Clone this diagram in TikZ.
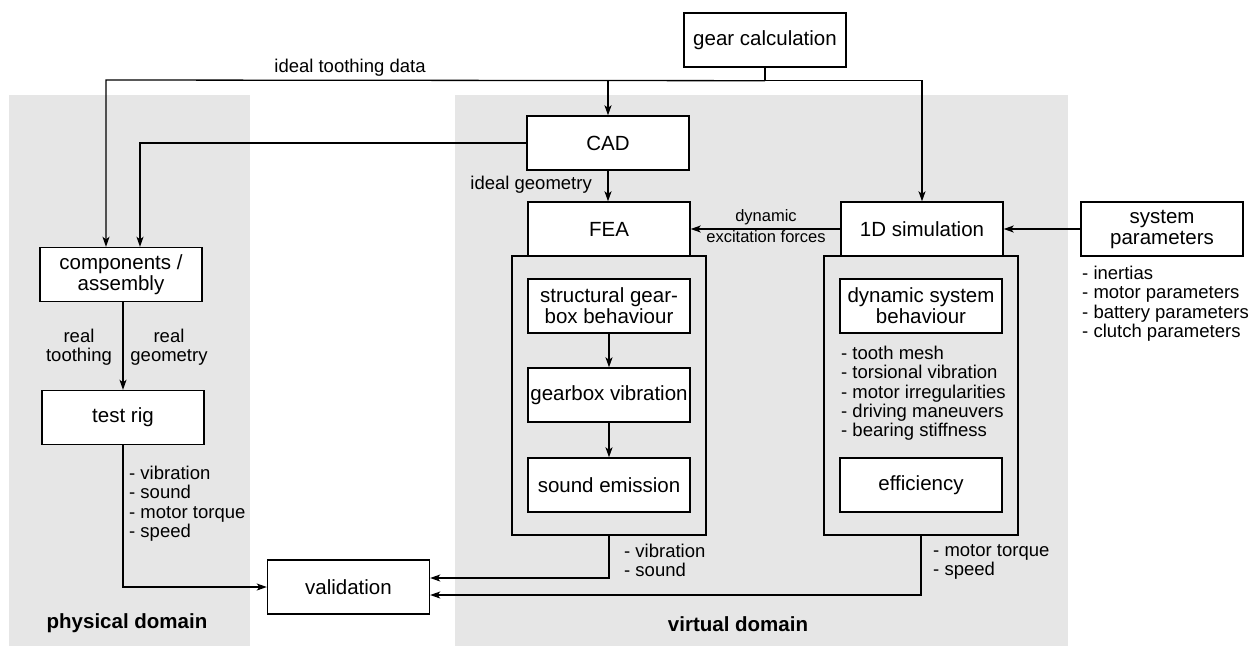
\documentclass[tikz,border=0pt]{standalone}
\usepackage{fontspec}
\setmainfont{Liberation Sans}
\usetikzlibrary{arrows.meta,calc}
\definecolor{domgray}{RGB}{230,230,230}
\begin{document}
\begin{tikzpicture}[x=1pt,y=-1pt,
  box/.style={draw, line width=1.4pt, fill=white, minimum width=162pt, minimum height=54pt,
    align=center, inner sep=0pt, font=\fontsize{20.5}{21}\selectfont},
  contbox/.style={draw, line width=1.4pt, minimum width=194pt, minimum height=279pt, inner sep=0pt},
  lbl/.style={inner sep=0pt, align=left, font=\fontsize{18.5}{19.3}\selectfont},
  clbl/.style={inner sep=0pt, align=center, font=\fontsize{18.5}{19.3}\selectfont},
  dom/.style={inner sep=0pt, font=\fontsize{20.5}{21}\selectfont\bfseries},
  wire/.style={line width=1.3pt},
  conn/.style={line width=1.3pt, -{Stealth[length=10pt,width=7pt,inset=2.5pt]}}]
\useasboundingbox (0,0) rectangle (1257,646);
% domains
\fill[domgray] (9,95) rectangle (250,646);
\fill[domgray] (455,95) rectangle (1068,646);
\node[dom] (physdom) at (127,623) {physical domain};
\node[dom] (virtdom) at (738,624) {virtual domain};
% containers
\node[contbox] (feac) at (609,395.5) {};
\node[contbox] (simc) at (921,395.5) {};
% boxes
\node[box] (gc) at (765,40) {gear calculation};
\node[box] (cad) at (608,143) {CAD};
\node[box] (fea) at (609,229) {FEA};
\node[box] (sim) at (922,229) {1D simulation};
\node[box] (sys) at (1162,229) {system\\parameters};
\node[box] (comp) at (121,274.5) {components /\\assembly};
\node[box] (rig) at (123,417.5) {test rig};
\node[box] (val) at (348.5,587) {validation};
\node[box] (struct) at (609,306) {structural gear-\\box behaviour};
\node[box] (gvib) at (609,395) {gearbox vibration};
\node[box] (sound) at (609,485) {sound emission};
\node[box] (dyn) at (921,306) {dynamic system\\behaviour};
\node[box] (eff) at (921,485) {efficiency};
% labels
\node[lbl] (ltd) at (350,68) {ideal toothing data};
\node[lbl, anchor=east] (lig) at (592,185) {ideal geometry};
\node[inner sep=0pt, align=center, font=\fontsize{16.5}{21}\selectfont] (ldyn) at (766,226) {dynamic\\excitation forces};
\node[clbl] (lrt) at (79,347) {real\\toothing};
\node[clbl] (lrg) at (169,347) {real\\geometry};
\node[lbl, anchor=north west] (lrig) at (129,466) {- vibration\\- sound\\- motor torque\\- speed};
\node[lbl, anchor=north west] (lfea) at (624,544) {- vibration\\- sound};
\node[lbl, anchor=north west] (lsim) at (933,544) {- motor torque\\- speed};
\node[lbl, anchor=north west] (lsys) at (1082,266) {- inertias\\- motor parameters\\- battery parameters\\- clutch parameters};
\node[lbl, anchor=north west] (ldynl) at (841,346) {- tooth mesh\\- torsional vibration\\- motor irregularities\\- driving maneuvers\\- bearing stiffness};
% connectors
\coordinate (jL) at (106,80);
\coordinate (jC) at (140,0);
\draw[wire] (gc.south) -- ++(0,13) coordinate (j);
\draw[conn] (j) -| (sim.north);
\draw[conn] (j) -- (jL) -- (jL |- comp.north);
\draw[conn] (cad.north |- j) -- (cad.north);
\draw[conn] (cad.west) -- (cad.west -| jC) -- (jC |- comp.north);
\draw[conn] (cad.south) -- (cad.south |- fea.north);
\draw[conn] (sim.west) -- (fea.east);
\draw[conn] (sys.west) -- (sim.east);
\draw[conn] (comp.south -| rig.north) -- (rig.north);
\draw[conn] (rig.south) |- (val.west);
\draw[conn] (struct) -- (gvib);
\draw[conn] (gvib) -- (sound);
\draw[conn] (feac.south) |- ($(val.east)+(0,-9)$);
\draw[conn] (simc.south) |- ($(val.east)+(0,8)$);
\end{tikzpicture}
\end{document}
